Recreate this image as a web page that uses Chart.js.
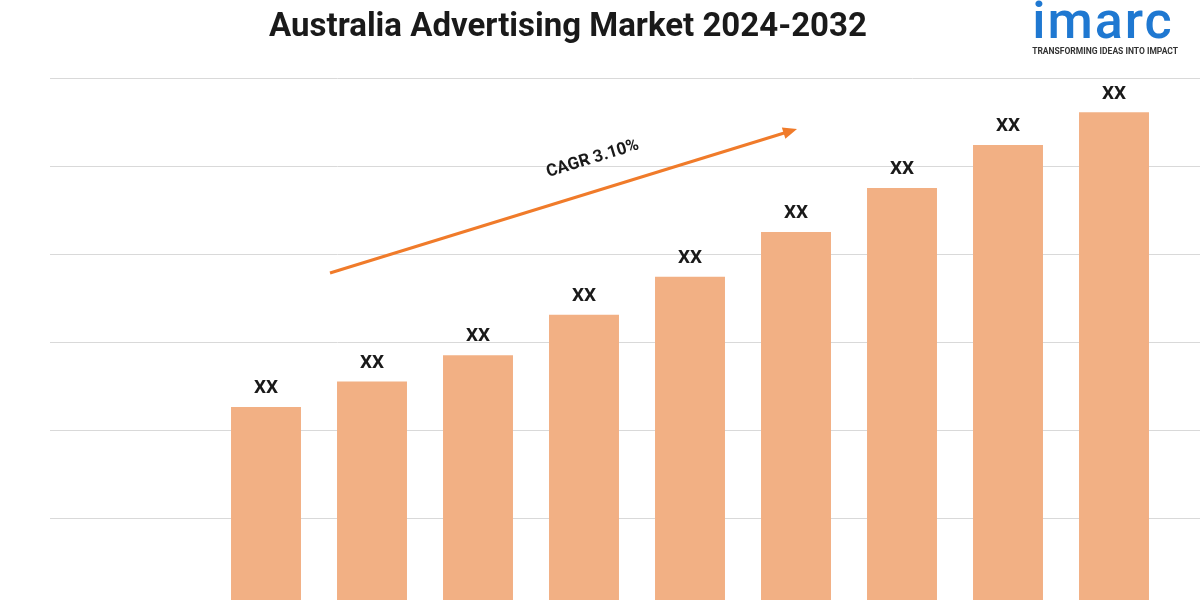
<!DOCTYPE html>
<html><head><meta charset="utf-8">
<script src="https://cdn.jsdelivr.net/npm/chart.js@4"></script>
<style>
html,body{margin:0;background:#fff;}
#wrap{position:relative;width:1200px;height:600px;}
h1{position:absolute;left:0;width:1136px;top:5px;margin:0;text-align:center;font:bold 33px "Roboto",sans-serif;color:#1a1a1a;}
#logo{position:absolute;right:22px;top:-4px;text-align:left;font-family:"Roboto",sans-serif;}
#logo .big{font:500 52px "Roboto",sans-serif;color:#1f78d1;letter-spacing:2px;line-height:50px;}
#logo .sm{font:bold 8.5px "Roboto",sans-serif;color:#333;}
</style></head>
<body><div id="wrap">
<h1>Australia Advertising Market 2024-2032</h1>
<div id="logo"><div class="big">imarc</div><div class="sm">TRANSFORMING IDEAS INTO IMPACT</div></div>
<canvas id="c" width="1200" height="600"></canvas>
</div>
<script>
// years and bar heights (in gridline units)
const years = ['2024','2025','2026','2027','2028','2029','2030','2031','2032'];
const values = [2.26, 2.55, 2.85, 3.31, 3.74, 4.25, 4.75, 5.24, 5.61];
const barLabels = ['XX','XX','XX','XX','XX','XX','XX','XX','XX'];
const cagrText = 'CAGR 3.10%';

const extras = {
  id: 'extras',
  beforeDatasetsDraw(chart) {
    const {ctx, scales: {y}} = chart;
    ctx.save();
    ctx.strokeStyle = '#d9d9d9'; ctx.lineWidth = 1;
    for (let v = 1; v <= 6; v++) {
      const py = Math.round(y.getPixelForValue(v)) + 0.5;
      ctx.beginPath(); ctx.moveTo(50, py); ctx.lineTo(1200, py); ctx.stroke();
    }
    ctx.restore();
  },
  afterDatasetsDraw(chart) {
    const {ctx} = chart;
    const meta = chart.getDatasetMeta(0);
    ctx.save();
    ctx.fillStyle = '#1a1a1a';
    ctx.font = 'bold 19px Roboto, sans-serif';
    ctx.textAlign = 'center'; ctx.textBaseline = 'bottom';
    meta.data.forEach((b, i) => ctx.fillText(barLabels[i], b.x, b.y - 9));
    // CAGR arrow
    const x0 = 330, y0 = 273, x1 = 797, y1 = 129;
    ctx.strokeStyle = '#f07b2a'; ctx.fillStyle = '#f07b2a'; ctx.lineWidth = 3;
    const a = Math.atan2(y1 - y0, x1 - x0);
    ctx.beginPath(); ctx.moveTo(x0, y0); ctx.lineTo(x1 - 10*Math.cos(a), y1 - 10*Math.sin(a)); ctx.stroke();
    ctx.beginPath();
    ctx.moveTo(x1, y1);
    ctx.lineTo(x1 - 14*Math.cos(a) + 6*Math.sin(a), y1 - 14*Math.sin(a) - 6*Math.cos(a));
    ctx.lineTo(x1 - 14*Math.cos(a) - 6*Math.sin(a), y1 - 14*Math.sin(a) + 6*Math.cos(a));
    ctx.closePath(); ctx.fill();
    ctx.translate(594, 163); ctx.rotate(a);
    ctx.fillStyle = '#1a1a1a'; ctx.font = 'bold 17px Roboto, sans-serif';
    ctx.textAlign = 'center'; ctx.textBaseline = 'alphabetic';
    ctx.fillText(cagrText, 0, 0);
    ctx.restore();
  }
};

new Chart(document.getElementById('c'), {
  type: 'bar',
  data: { labels: years, datasets: [{ data: values, backgroundColor: '#f2b084', barPercentage: 0.66, categoryPercentage: 1 }] },
  options: {
    responsive: false, animation: false,
    layout: { padding: { left: 213, right: 33, top: 78, bottom: 0 } },
    plugins: { legend: { display: false }, tooltip: { enabled: false } },
    scales: {
      x: { display: false },
      y: { display: false, min: 0.068, max: 6 }
    }
  },
  plugins: [extras]
});
</script>
</body></html>
